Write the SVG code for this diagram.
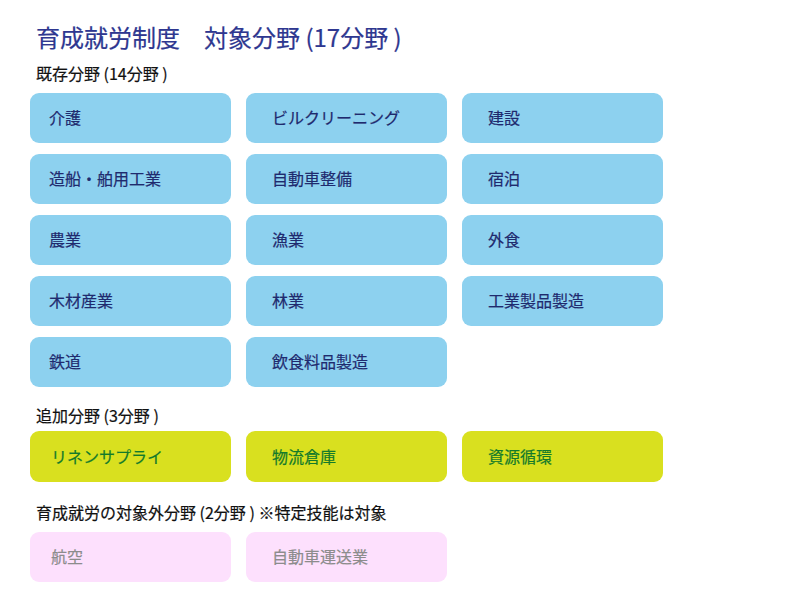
<svg xmlns="http://www.w3.org/2000/svg" width="800" height="600" viewBox="0 0 800 600">
<style>
text{font-family:"Noto Sans CJK JP","Noto Sans CJK SC",sans-serif;font-weight:400;stroke-width:0.2px}
.title{font-size:24px;fill:#2e3790;stroke:#2e3790}
.sec{font-size:16px;fill:#111;stroke:#111}
.b rect{fill:#8dd1ef}
.b text{font-size:16px;fill:#1f2a6e;stroke:#1f2a6e}
.y rect{fill:#d9e01f}
.y text{font-size:16px;fill:#137a2b;stroke:#137a2b}
.p rect{fill:#fde0fd}
.p text{font-size:16px;fill:#8c8c8c;stroke:#8c8c8c}
</style>
<rect width="800" height="600" fill="#fff"/>
<text class="title" x="36" y="47">育成就労制度　対象分野 (17分野 )</text>
<text class="sec" x="36" y="80">既存分野 (14分野 )</text>
<g id="n1" class="b"><rect x="30" y="93" width="201" height="50" rx="9"/><text x="49" y="124">介護</text></g>
<g id="n2" class="b"><rect x="246" y="93" width="201" height="50" rx="9"/><text x="272" y="124">ビルクリーニング</text></g>
<g id="n3" class="b"><rect x="462" y="93" width="201" height="50" rx="9"/><text x="488" y="124">建設</text></g>
<g id="n4" class="b"><rect x="30" y="154" width="201" height="50" rx="9"/><text x="49" y="185">造船・舶用工業</text></g>
<g id="n5" class="b"><rect x="246" y="154" width="201" height="50" rx="9"/><text x="272" y="185">自動車整備</text></g>
<g id="n6" class="b"><rect x="462" y="154" width="201" height="50" rx="9"/><text x="488" y="185">宿泊</text></g>
<g id="n7" class="b"><rect x="30" y="215" width="201" height="50" rx="9"/><text x="49" y="246">農業</text></g>
<g id="n8" class="b"><rect x="246" y="215" width="201" height="50" rx="9"/><text x="272" y="246">漁業</text></g>
<g id="n9" class="b"><rect x="462" y="215" width="201" height="50" rx="9"/><text x="488" y="246">外食</text></g>
<g id="n10" class="b"><rect x="30" y="276" width="201" height="50" rx="9"/><text x="49" y="307">木材産業</text></g>
<g id="n11" class="b"><rect x="246" y="276" width="201" height="50" rx="9"/><text x="272" y="307">林業</text></g>
<g id="n12" class="b"><rect x="462" y="276" width="201" height="50" rx="9"/><text x="488" y="307">工業製品製造</text></g>
<g id="n13" class="b"><rect x="30" y="337" width="201" height="50" rx="9"/><text x="49" y="368">鉄道</text></g>
<g id="n14" class="b"><rect x="246" y="337" width="201" height="50" rx="9"/><text x="272" y="368">飲食料品製造</text></g>
<text class="sec" x="36" y="422">追加分野 (3分野 )</text>
<g id="n15" class="y"><rect x="30" y="431" width="201" height="51" rx="9"/><text x="51" y="463">リネンサプライ</text></g>
<g id="n16" class="y"><rect x="246" y="431" width="201" height="51" rx="9"/><text x="272" y="463">物流倉庫</text></g>
<g id="n17" class="y"><rect x="462" y="431" width="201" height="51" rx="9"/><text x="488" y="463">資源循環</text></g>
<text class="sec" x="36" y="519">育成就労の対象外分野 (2分野 ) ※特定技能は対象</text>
<g id="n18" class="p"><rect x="30" y="532" width="201" height="50" rx="9"/><text x="51" y="563">航空</text></g>
<g id="n19" class="p"><rect x="246" y="532" width="201" height="50" rx="9"/><text x="272" y="563">自動車運送業</text></g>
<g id="connectors"></g>
</svg>
